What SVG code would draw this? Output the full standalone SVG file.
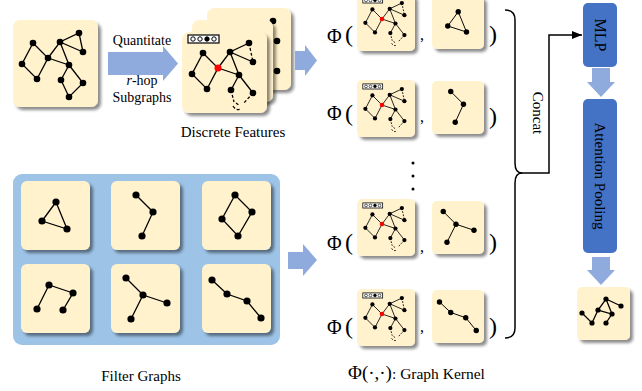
<svg xmlns="http://www.w3.org/2000/svg" xmlns:xlink="http://www.w3.org/1999/xlink" width="642" height="391" viewBox="0 0 642 391">
<style>
.card{fill:#FFF2CC;filter:url(#sh)}
.e{stroke:#000;stroke-width:1.3;fill:none}
.d{stroke:#000;stroke-width:1.3;fill:none;stroke-dasharray:3 2}
.n{fill:#000}
.fa{fill:#8FAADC}
.bb{fill:#4472C4}
.t{font-family:"Liberation Serif","Times New Roman",serif;fill:#000}
</style>
<defs>
<filter id="sh" x="-20%" y="-20%" width="150%" height="150%">
<feDropShadow dx="3" dy="3" stdDeviation="1.6" flood-color="#000" flood-opacity="0.45"/>
</filter>
<marker id="ah" markerWidth="10" markerHeight="8" refX="10" refY="4" orient="auto" markerUnits="userSpaceOnUse">
<path d="M0,0 L10,4 L0,8 z" fill="#000"/>
</marker>
<g id="gMain">
<path class="e" d="M33,43L22,64L37,79L48,58L33,43M48,58L60,42L79,33L83,52L60,42M48,58L69,65L60,42M69,65L61,80L69,97L83,83L69,65"/>
<circle class="n" cx="33" cy="43" r="3.3"/><circle class="n" cx="22" cy="64" r="3.3"/><circle class="n" cx="37" cy="79" r="3.3"/>
<circle class="n" cx="48" cy="58" r="3.3"/><circle class="n" cx="60" cy="42" r="3.3"/><circle class="n" cx="79" cy="33" r="3.3"/>
<circle class="n" cx="83" cy="52" r="3.3"/><circle class="n" cx="69" cy="65" r="3.3"/><circle class="n" cx="61" cy="80" r="3.3"/>
<circle class="n" cx="83" cy="83" r="3.3"/><circle class="n" cx="69" cy="97" r="3.3"/>
</g>
<g id="gDisc">
<rect x="18" y="25" width="31" height="8" fill="#fff" stroke="#000" stroke-width="1.2"/>
<circle cx="23" cy="29" r="2.2" fill="#fff" stroke="#000" stroke-width="1"/>
<circle cx="30" cy="29" r="2.2" fill="#fff" stroke="#000" stroke-width="1"/>
<circle cx="37" cy="29" r="2.2" fill="#000" stroke="#000" stroke-width="1"/>
<circle cx="44" cy="29" r="2.2" fill="#fff" stroke="#000" stroke-width="1"/>
<path class="e" d="M33,43L22,64L37,79L48,58L33,43M48,58L60,42L79,33M60,42L83,52M48,58L69,65L60,42M69,65L61,80M69,65L83,83"/>
<path class="d" d="M79,33L83,52M61,80L64,92M83,83L73,94M63,96Q66,101 71,99M66,93L70,96"/>
<circle class="n" cx="33" cy="43" r="3.3"/><circle class="n" cx="22" cy="64" r="3.3"/><circle class="n" cx="37" cy="79" r="3.3"/>
<circle cx="48" cy="58" r="3.5" fill="#FF0000"/><circle class="n" cx="60" cy="42" r="3.3"/><circle class="n" cx="79" cy="33" r="3.3"/>
<circle class="n" cx="83" cy="52" r="3.3"/><circle class="n" cx="69" cy="65" r="3.3"/><circle class="n" cx="61" cy="80" r="3.3"/>
<circle class="n" cx="83" cy="83" r="3.3"/>
</g>
<g id="fTri">
<path class="e" d="M35,21L21,40L46,48Z"/>
<circle class="n" cx="35" cy="21" r="3.6"/><circle class="n" cx="21" cy="40" r="3.6"/><circle class="n" cx="46" cy="48" r="3.6"/>
</g>
<g id="fBend">
<path class="e" d="M25,14L42,31L31,55"/>
<circle class="n" cx="25" cy="14" r="3.6"/><circle class="n" cx="42" cy="31" r="3.6"/><circle class="n" cx="31" cy="55" r="3.6"/>
</g>
<g id="fDiam">
<path class="e" d="M33,14L50,31L36,55L20,38Z"/>
<circle class="n" cx="33" cy="14" r="3.6"/><circle class="n" cx="50" cy="31" r="3.6"/><circle class="n" cx="36" cy="55" r="3.6"/><circle class="n" cx="20" cy="38" r="3.6"/>
</g>
<g id="fHook">
<path class="e" d="M16,45L28,21L52,29L42,46"/>
<circle class="n" cx="16" cy="45" r="3.6"/><circle class="n" cx="28" cy="21" r="3.6"/><circle class="n" cx="52" cy="29" r="3.6"/><circle class="n" cx="42" cy="46" r="3.6"/>
</g>
<g id="fStar">
<path class="e" d="M15,14L32,31L56,39M32,31L20,55"/>
<circle class="n" cx="15" cy="14" r="3.6"/><circle class="n" cx="32" cy="31" r="3.6"/><circle class="n" cx="56" cy="39" r="3.6"/><circle class="n" cx="20" cy="55" r="3.6"/>
</g>
<g id="fPath">
<path class="e" d="M10,16L25,30L45,37L59,54"/>
<circle class="n" cx="10" cy="16" r="3.6"/><circle class="n" cx="25" cy="30" r="3.6"/><circle class="n" cx="45" cy="37" r="3.6"/><circle class="n" cx="59" cy="54" r="3.6"/>
</g>
</defs>

<rect width="642" height="391" fill="#fff"/>

<!-- input graph -->
<g id="input-graph">
<rect class="card" x="13" y="20" width="85" height="87" rx="7"/>
<use xlink:href="#gMain"/>
</g>

<!-- discrete features stack -->
<g id="discrete-features">
<rect class="card" x="207" y="8" width="84" height="82" rx="7"/>
<circle class="n" cx="273" cy="21" r="3.3"/><circle class="n" cx="277" cy="41" r="3.3"/><circle class="n" cx="277" cy="71" r="3.3"/>
<rect class="card" x="192" y="20" width="81" height="82" rx="7"/>
<rect class="card" x="182" y="32" width="85" height="81" rx="7"/>
<use xlink:href="#gDisc" transform="translate(170,10)"/>
<text class="t" x="233" y="137" font-size="15" text-anchor="middle">Discrete Features</text>
</g>

<!-- filter graphs panel -->
<g id="filter-graphs">
<rect x="13" y="174" width="267" height="171" rx="9" fill="#9DC3E6"/>
<rect class="card" x="21" y="181" width="69" height="69" rx="6"/>
<use xlink:href="#fTri" transform="translate(21,181)"/>
<rect class="card" x="111" y="181" width="69" height="69" rx="6"/>
<use xlink:href="#fBend" transform="translate(111,181)"/>
<rect class="card" x="202" y="181" width="69" height="69" rx="6"/>
<use xlink:href="#fDiam" transform="translate(202,181)"/>
<rect class="card" x="21" y="264" width="69" height="69" rx="6"/>
<use xlink:href="#fHook" transform="translate(21,264)"/>
<rect class="card" x="111" y="264" width="69" height="69" rx="6"/>
<use xlink:href="#fStar" transform="translate(111,264)"/>
<rect class="card" x="202" y="264" width="69" height="69" rx="6"/>
<use xlink:href="#fPath" transform="translate(202,264)"/>
<text class="t" x="141" y="381" font-size="15" text-anchor="middle">Filter Graphs</text>
</g>

<!-- kernel rows -->
<g id="kernel-row-1">
<text class="t" x="327" y="43" font-size="20">Φ</text>
<text class="t" x="345" y="42" font-size="24">(</text>
<rect class="card" x="357" y="-6" width="58" height="57" rx="5"/>
<use xlink:href="#gDisc" transform="translate(351.3,-18.1) scale(0.64)"/>
<text class="t" x="420" y="40" font-size="16">,</text>
<rect class="card" x="432" y="-4" width="52" height="53" rx="5"/>
<use xlink:href="#fTri" transform="translate(432,-4) scale(0.75)"/>
<text class="t" x="489" y="42" font-size="24">)</text>
</g>
<g id="kernel-row-2">
<text class="t" x="327" y="120" font-size="20">Φ</text>
<text class="t" x="345" y="121" font-size="24">(</text>
<rect class="card" x="357" y="80" width="58" height="57" rx="5"/>
<use xlink:href="#gDisc" transform="translate(351.3,67.9) scale(0.64)"/>
<text class="t" x="420" y="122" font-size="16">,</text>
<rect class="card" x="432" y="81" width="52" height="53" rx="5"/>
<use xlink:href="#fBend" transform="translate(432,81) scale(0.75)"/>
<text class="t" x="489" y="124" font-size="24">)</text>
</g>
<g id="ellipsis">
<circle class="n" cx="413" cy="163" r="1.5"/><circle class="n" cx="413" cy="176" r="1.5"/><circle class="n" cx="413" cy="189" r="1.5"/>
</g>
<g id="kernel-row-3">
<text class="t" x="327" y="250" font-size="20">Φ</text>
<text class="t" x="345" y="250" font-size="24">(</text>
<rect class="card" x="357" y="199" width="58" height="57" rx="5"/>
<use xlink:href="#gDisc" transform="translate(351.3,186.9) scale(0.64)"/>
<text class="t" x="420" y="252" font-size="16">,</text>
<rect class="card" x="432" y="201" width="52" height="53" rx="5"/>
<use xlink:href="#fStar" transform="translate(432,201) scale(0.75)"/>
<text class="t" x="489" y="250" font-size="24">)</text>
</g>
<g id="kernel-row-4">
<text class="t" x="327" y="334" font-size="20">Φ</text>
<text class="t" x="345" y="334" font-size="24">(</text>
<rect class="card" x="357" y="289" width="58" height="57" rx="5"/>
<use xlink:href="#gDisc" transform="translate(351.3,276.9) scale(0.64)"/>
<text class="t" x="420" y="332" font-size="16">,</text>
<rect class="card" x="432" y="290" width="52" height="53" rx="5"/>
<use xlink:href="#fPath" transform="translate(432,290) scale(0.75)"/>
<text class="t" x="489" y="334" font-size="24">)</text>
</g>
<text class="t" x="348" y="379"><tspan font-size="19">Φ(·,·)</tspan><tspan font-size="15.5">: Graph Kernel</tspan></text>

<!-- MLP / attention pooling / output -->
<g id="mlp">
<rect class="bb" x="583" y="3" width="34" height="64" rx="5"/>
<text class="t" font-size="16" text-anchor="middle" dominant-baseline="central" transform="translate(600,35) rotate(90)">MLP</text>
</g>
<g id="attention-pooling">
<rect class="bb" x="583" y="99" width="34" height="154" rx="5"/>
<text class="t" font-size="15" text-anchor="middle" dominant-baseline="central" transform="translate(600,176) rotate(90)">Attention Pooling</text>
</g>
<g id="output-graph">
<rect class="card" x="577" y="287" width="53" height="53" rx="5"/>
<path class="e" d="M582,313L592,323L598,310L606,299L621,306M598,310L612,314L606,299M612,314L606,323" stroke-width="1.1"/>
<circle class="n" cx="582" cy="313" r="2.6"/><circle class="n" cx="592" cy="323" r="2.6"/><circle class="n" cx="598" cy="310" r="2.6"/>
<circle class="n" cx="606" cy="299" r="2.6"/><circle class="n" cx="621" cy="306" r="2.6"/><circle class="n" cx="612" cy="314" r="2.6"/>
<circle class="n" cx="606" cy="323" r="2.6"/>
</g>

<!-- connectors -->
<g id="connectors">
<polygon class="fa" points="108,52 163,52 163,46 178,63.5 163,81 163,75 108,75"/>
<text class="t" x="142" y="45" font-size="14" text-anchor="middle">Quantitate</text>
<text class="t" x="142" y="85" font-size="14" text-anchor="middle"><tspan font-style="italic">r</tspan>-hop</text>
<text class="t" x="142" y="102" font-size="14" text-anchor="middle">Subgraphs</text>
<polygon class="fa" points="295,51 305,51 305,45 317,60.5 305,76 305,70 295,70"/>
<polygon class="fa" points="288,252 303,252 303,244 317,260 303,276 303,269 288,269"/>
<path d="M505,10Q515,10 515,20V163Q515,173 522,173Q515,173 515,183V328Q515,338 505,338" fill="none" stroke="#000" stroke-width="1.5"/>
<path d="M521,173H549V35H582" fill="none" stroke="#000" stroke-width="1.5" marker-end="url(#ah)"/>
<text class="t" font-size="15" text-anchor="middle" dominant-baseline="central" transform="translate(538,113) rotate(90)">Concat</text>
<polygon class="fa" points="592,68 610,68 610,82 615,82 601,97 587,82 592,82"/>
<polygon class="fa" points="592,257 610,257 610,270 615,270 601,285 587,270 592,270"/>
</g>
</svg>
